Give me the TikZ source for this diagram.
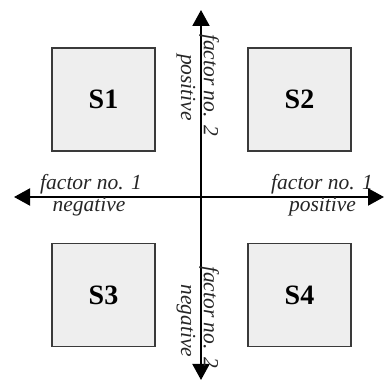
\documentclass[tikz,border=0pt]{standalone}
\usepackage{fontspec}
\setmainfont{Liberation Serif}
\usetikzlibrary{arrows.meta}
\definecolor{boxfill}{HTML}{EEEEEE}
\definecolor{boxline}{HTML}{3A3A3A}
\begin{document}
\begin{tikzpicture}[x=1pt,y=1pt,
  quad/.style={draw=boxline,line width=1.2pt,fill=boxfill,minimum width=103pt,minimum height=103pt,inner sep=0pt,font=\fontsize{28}{30}\selectfont\bfseries},
  axis/.style={line width=2pt,-{Triangle[length=16pt,width=17pt]}},
  lbl/.style={font=\fontsize{21.5}{24}\selectfont\itshape,inner sep=0pt,text=black!85}]
\useasboundingbox (0,0) rectangle (384,381);
\coordinate (c) at (201,184);
\coordinate (top) at (201,371);
\coordinate (bot) at (201,1);
\coordinate (lft) at (14,184);
\coordinate (rgt) at (384,184);
\draw[axis] (c) -- (top);
\draw[axis] (c) -- (bot);
\draw[axis] (c) -- (lft);
\draw[axis] (c) -- (rgt);
\node[quad] (s1) at (103.5,281.5) {S1};
\node[quad] (s2) at (299.5,281.5) {S2};
\node[quad] (s3) at (103.5,86) {S3};
\node[quad] (s4) at (299.5,86) {S4};
\node[lbl,anchor=base] (f1n) at (91,191) {factor no. 1};
\node[lbl,anchor=base] (neg1) at (89,169) {negative};
\node[lbl,anchor=base] (f1p) at (322,191) {factor no. 1};
\node[lbl,anchor=base] (pos1) at (322.5,169) {positive};
\node[lbl,anchor=base,rotate=-90] (f2p) at (204,296) {factor no. 2};
\node[lbl,anchor=base,rotate=-90] (pos2) at (181,293.5) {positive};
\node[lbl,anchor=base,rotate=-90] (f2n) at (204,64) {factor no. 2};
\node[lbl,anchor=base,rotate=-90] (neg2) at (181,60) {negative};
\end{tikzpicture}
\end{document}
